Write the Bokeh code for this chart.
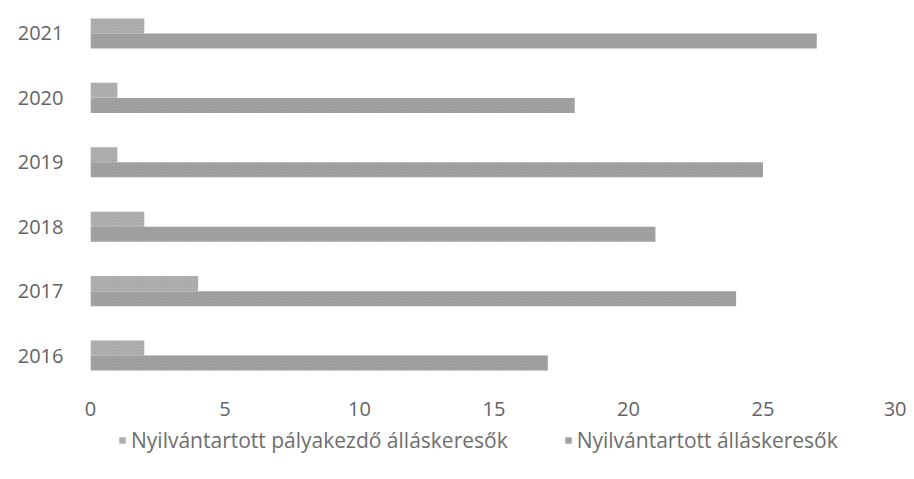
from bokeh.plotting import figure
from bokeh.layouts import column
from bokeh.models import ColumnDataSource, FixedTicker, Legend, LegendItem, Range1d
from bokeh.embed import file_html
from bokeh.resources import INLINE

years = ["2016", "2017", "2018", "2019", "2020", "2021"]
palyakezdo = [2, 4, 2, 1, 1, 2]
allaskeresok = [17, 24, 21, 25, 18, 27]
series_names = ["Nyilvántartott pályakezdő álláskeresők", "Nyilvántartott álláskeresők"]
x_ticks = [0, 5, 10, 15, 20, 25, 30]

pos = list(range(len(years)))
bar_h = 0.233
off = 0.117

col1 = dict(fill_color="#b0b0b0", hatch_color="#888888")
col2 = dict(fill_color="#a2a2a2", hatch_color="#7e7e7e")
hatch = dict(line_color=None, hatch_pattern="dot", hatch_alpha=0.5, hatch_scale=3)

src1 = ColumnDataSource(dict(y=[p + off for p in pos], v=palyakezdo))
src2 = ColumnDataSource(dict(y=[p - off for p in pos], v=allaskeresok))

p = figure(width=906, height=422, output_backend="svg", toolbar_location=None,
           x_range=Range1d(0, 30), y_range=Range1d(-0.543, 5.388),
           min_border_left=90, min_border_right=9, min_border_top=8, min_border_bottom=32)
p.outline_line_color = None
p.xgrid.visible = False
p.ygrid.visible = False

font = "Open Sans"
tcol = "#646464"

p.hbar(y="y", left=0, right="v", height=bar_h, source=src1, **col1, **hatch)
p.hbar(y="y", left=0, right="v", height=bar_h, source=src2, **col2, **hatch)

p.xaxis.ticker = FixedTicker(ticks=x_ticks)
p.xaxis.axis_line_color = None
p.xaxis.major_tick_line_color = None
p.xaxis.minor_tick_line_color = None
p.xaxis.major_label_text_font = font
p.xaxis.major_label_text_font_size = "20px"
p.xaxis.major_label_text_color = tcol
p.xaxis.major_label_standoff = 5

p.yaxis.ticker = FixedTicker(ticks=pos)
p.yaxis.major_label_overrides = {i: y for i, y in enumerate(years)}
p.yaxis.axis_line_color = None
p.yaxis.major_tick_line_color = None
p.yaxis.minor_tick_line_color = None
p.yaxis.major_label_text_font = font
p.yaxis.major_label_text_font_size = "20px"
p.yaxis.major_label_text_color = tcol
p.yaxis.major_label_standoff = 21

# legend in its own strip below the chart (its bars are out of view; only the legend shows)
lf = figure(width=906, height=57, output_backend="svg", toolbar_location=None,
            x_range=Range1d(0, 30), y_range=Range1d(100, 101),
            x_axis_type=None, y_axis_type=None,
            min_border_left=0, min_border_right=0, min_border_top=0, min_border_bottom=0)
lf.outline_line_color = None
lf.xgrid.visible = False
lf.ygrid.visible = False
d1 = lf.hbar(y="y", left=0, right="v", height=bar_h, source=src1, **col1, **hatch)
d2 = lf.hbar(y="y", left=0, right="v", height=bar_h, source=src2, **col2, **hatch)

legend = Legend(items=[LegendItem(label=series_names[0], renderers=[d1]),
                       LegendItem(label=series_names[1], renderers=[d2])],
                orientation="horizontal", location=(28, 25),
                border_line_color=None, background_fill_alpha=0,
                padding=0, margin=0, spacing=56,
                glyph_width=8, glyph_height=8, label_standoff=5,
                label_text_font=font, label_text_font_size="21px",
                label_text_color="#6e6e6e", label_height=20)
lf.add_layout(legend, "center")

layout = column(p, lf, spacing=0)
open("out.html", "w").write(file_html(layout, INLINE))
